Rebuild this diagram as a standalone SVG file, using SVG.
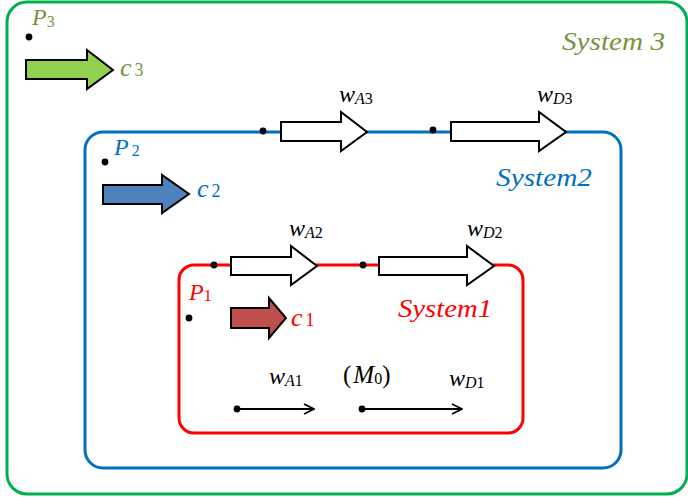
<svg xmlns="http://www.w3.org/2000/svg" width="688" height="497" viewBox="0 0 688 497">
<style>
text{font-family:"Liberation Serif","DejaVu Serif",serif;}
.it{font-style:italic;}
.sub{font-size:16px;}
.lbl{font-size:24px;fill:#000;}
.blk{stroke:#000;stroke-width:2;stroke-linejoin:miter;}
.wa{fill:#fff;}
.dot{fill:#000;}
.ln{stroke:#000;stroke-width:1.8;fill:none;}
</style>
<defs>
<marker id="open" viewBox="0 0 12 12" refX="11" refY="6" markerWidth="12" markerHeight="12" markerUnits="userSpaceOnUse" orient="auto">
<path d="M1,1 L11,6 L1,11" fill="none" stroke="#000" stroke-width="1.8"/>
</marker>
</defs>
<g id="system3">
<rect x="7" y="2" width="680" height="492" rx="20" fill="none" stroke="#00b050" stroke-width="3"/>
<text x="562" y="50" class="it" font-size="26" fill="#77933c" textLength="103" lengthAdjust="spacingAndGlyphs">System 3</text>
</g>
<g id="system2">
<rect x="85" y="132" width="536" height="336" rx="18" fill="none" stroke="#0070c0" stroke-width="3"/>
<text x="496" y="186" class="it" font-size="26" fill="#0070c0" textLength="96" lengthAdjust="spacingAndGlyphs">System2</text>
</g>
<g id="system1">
<rect x="179" y="265" width="344" height="168" rx="15" fill="none" stroke="#ff0000" stroke-width="3"/>
<text x="398" y="317" class="it" font-size="26" fill="#ff0000" textLength="94" lengthAdjust="spacingAndGlyphs">System1</text>
</g>
<g id="P3">
<circle class="dot" cx="29" cy="37" r="3.4"/>
<text x="32" y="25" font-size="24" fill="#77933c"><tspan class="it">P</tspan><tspan class="sub" dy="2">3</tspan></text>
</g>
<g id="c3">
<polygon class="blk" fill="#92d050" points="26,60 87,60 87,50 113,70 87,89 87,79 26,79"/>
<text x="120" y="76" font-size="26" fill="#77933c"><tspan class="it">c</tspan><tspan font-size="18" dx="3">3</tspan></text>
</g>
<g id="P2">
<circle class="dot" cx="105" cy="162" r="3.4"/>
<text x="114" y="155" font-size="24" fill="#0070c0"><tspan class="it">P</tspan><tspan class="sub" dx="3" dy="1">2</tspan></text>
</g>
<g id="c2">
<polygon class="blk" fill="#4f81bd" points="103,185 162,185 162,175 189,194 162,213 162,204 103,204"/>
<text x="197" y="197" font-size="26" fill="#0070c0"><tspan class="it">c</tspan><tspan font-size="18" dx="3">2</tspan></text>
</g>
<g id="P1">
<circle class="dot" cx="189" cy="318" r="3.4"/>
<text x="189" y="300" font-size="24" fill="#ff0000"><tspan class="it">P</tspan><tspan class="sub" dy="1">1</tspan></text>
</g>
<g id="c1">
<polygon class="blk" fill="#c0504d" points="231,308 269,308 269,298 286,318 269,338 269,328 231,328"/>
<text x="291" y="326" font-size="26" fill="#ff0000"><tspan class="it">c</tspan><tspan font-size="18" dx="3">1</tspan></text>
</g>
<g id="connectors">
<circle class="dot" cx="263" cy="131" r="3.4"/>
<polygon class="blk wa" points="281,122 341,122 341,112 367,132 341,151 341,141 281,141"/>
<circle class="dot" cx="433" cy="130" r="3.4"/>
<polygon class="blk wa" points="451,122 539,122 539,112 566,132 539,151 539,141 451,141"/>
<circle class="dot" cx="214" cy="265" r="3.4"/>
<polygon class="blk wa" points="231,257 291,257 291,246 317,266 291,285 291,275 231,275"/>
<circle class="dot" cx="363" cy="265" r="3.4"/>
<polygon class="blk wa" points="379,257 467,257 467,246 494,266 467,285 467,275 379,275"/>
<circle class="dot" cx="237" cy="409" r="3.4"/>
<line class="ln" x1="237" y1="409" x2="314" y2="409" marker-end="url(#open)"/>
<circle class="dot" cx="362" cy="409" r="3.4"/>
<line class="ln" x1="362" y1="409" x2="462" y2="409" marker-end="url(#open)"/>
</g>
<g id="labels">
<text x="339" y="102" class="lbl"><tspan class="it">w</tspan><tspan class="sub it" dy="2">A</tspan><tspan class="sub">3</tspan></text>
<text x="537" y="102" class="lbl"><tspan class="it">w</tspan><tspan class="sub it" dy="2">D</tspan><tspan class="sub">3</tspan></text>
<text x="289" y="236" class="lbl"><tspan class="it">w</tspan><tspan class="sub it" dy="2">A</tspan><tspan class="sub">2</tspan></text>
<text x="467" y="236" class="lbl"><tspan class="it">w</tspan><tspan class="sub it" dy="2">D</tspan><tspan class="sub">2</tspan></text>
<text x="269" y="384" class="lbl"><tspan class="it">w</tspan><tspan class="sub it" dy="2">A</tspan><tspan class="sub">1</tspan></text>
<text x="449" y="386" class="lbl"><tspan class="it">w</tspan><tspan class="sub it" dy="2">D</tspan><tspan class="sub">1</tspan></text>
<text x="343" y="383" font-size="25" fill="#000">(<tspan class="it" dx="2">M</tspan><tspan class="sub" dy="1">0</tspan><tspan dy="-1">)</tspan></text>
</g>
</svg>
